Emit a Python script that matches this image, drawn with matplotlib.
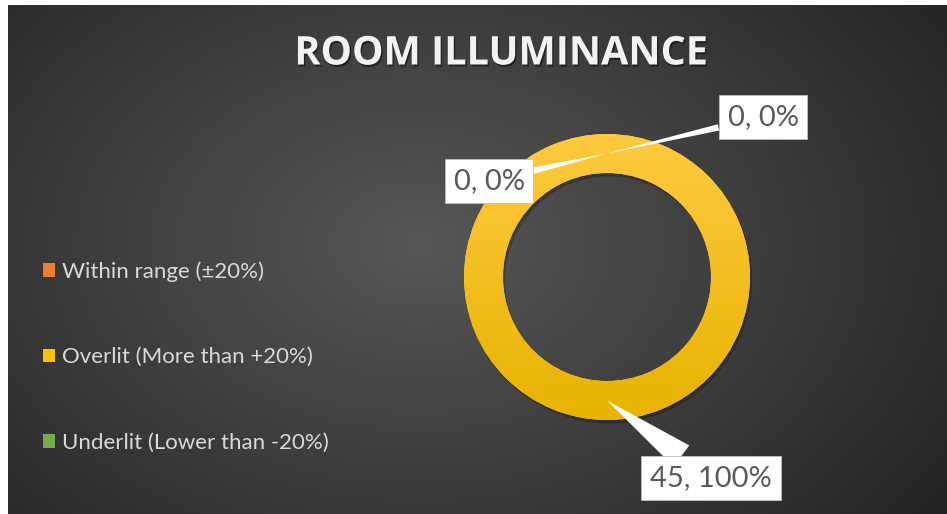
import numpy as np
import matplotlib
matplotlib.use('Agg')
import matplotlib.pyplot as plt
import matplotlib.patheffects as pe
from matplotlib.patches import Patch

# Data
categories = ['Within range (±20%)', 'Overlit (More than +20%)', 'Underlit (Lower than -20%)']
counts = [0, 45, 0]
colors = ['#ED7D31', '#FFC000', '#70AD47']
title = 'ROOM ILLUMINANCE'

W, H = 947, 514
fig = plt.figure(figsize=(W / 100, H / 100), dpi=100)
fig.patch.set_facecolor('white')
ax = fig.add_axes([0, 0, 1, 1])

# Background: dark radial gradient (chart area starts a few px in from left/top)
bx0, bx1, by0, by1 = 8, W, 0, H - 5
gx, gy = np.meshgrid(np.linspace(bx0, bx1, 400), np.linspace(by1, by0, 220))
d = np.sqrt(((gx - 420) / 620) ** 2 + ((gy - 270) / 430) ** 2)
shade = np.clip(0.34 - 0.19 * d, 0.14, 0.34)
bg = np.dstack([shade, shade, shade])
ax.imshow(bg, extent=(bx0, bx1, by0, by1), zorder=0, interpolation='bicubic')

# Donut
cx, cy, R, ring = 607, H - 277, 143, 39
total = sum(counts)
wedges, _ = ax.pie(counts, colors=colors, radius=R, center=(cx, cy),
                   startangle=90, counterclock=False,
                   wedgeprops=dict(width=ring, linewidth=0))
for w in wedges:
    w.set_zorder(2)

# gradient fill for the ring
main = wedges[1]
main.set_path_effects([pe.SimplePatchShadow(offset=(1.5, -2.5), shadow_rgbFace='black', alpha=0.25),
                       pe.Normal()])
t = np.linspace(0, 1, 200).reshape(-1, 1)
top = np.array([1.0, 0.79, 0.25])
bot = np.array([0.91, 0.70, 0.0])
grad = top * (1 - t[..., None]) + bot * t[..., None]
grad = np.repeat(grad, 2, axis=1)
im = ax.imshow(grad, extent=(cx - R, cx + R, cy - R, cy + R), zorder=3,
               interpolation='bicubic')
im.set_clip_path(main)

# Data labels with callouts
label_pos = [(763, H - 117), (711, H - 478), (489, H - 181)]
tail = [0.22, 0.9, 0.22]
rmid = R - ring / 2
for i, w in enumerate(wedges):
    mid = np.deg2rad((w.theta1 + w.theta2) / 2)
    tip = (cx + rmid * np.cos(mid), cy + rmid * np.sin(mid))
    txt = f'{counts[i]}, {counts[i] / total:.0%}'
    ax.annotate(txt, xy=tip, xytext=label_pos[i], ha='center', va='center',
                fontsize=21, family='Lato', color='#595959', zorder=5,
                bbox=dict(boxstyle='square,pad=0.3', fc='white', ec='#BFBFBF', lw=0.6),
                arrowprops=dict(arrowstyle=f'wedge,tail_width={tail[i]},shrink_factor=0.5',
                                fc='white', ec='none', shrinkA=0, shrinkB=0,
                                mutation_scale=21))

ax.set_xlim(0, W)
ax.set_ylim(0, H)
ax.set_aspect('equal')
ax.axis('off')

# Title
fig.text(501 / W, 1 - 54 / H, title, ha='center', va='center', fontsize=28.5,
         family='Open Sans', weight='bold', color='#F2F2F2',
         path_effects=[pe.withSimplePatchShadow(offset=(1, -1.5), shadow_rgbFace='black', alpha=0.45)])

# Legend
handles = [Patch(facecolor=c, edgecolor='none') for c in colors]
leg = fig.legend(handles, categories, loc='center left',
                 bbox_to_anchor=(23 / W, 1 - 357 / H), frameon=False,
                 prop={'family': 'Lato', 'size': 16}, labelcolor='#D9D9D9',
                 handlelength=0.55, handleheight=0.55, handletextpad=0.3,
                 labelspacing=2.95)

fig.savefig('out.png', dpi=100, facecolor='white')
